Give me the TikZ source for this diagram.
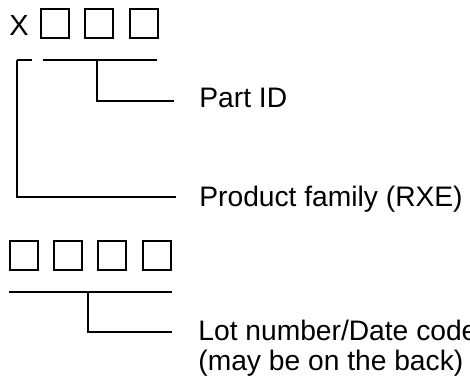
\documentclass[tikz,border=0pt]{standalone}
\usepackage{fontspec}
\setmainfont{Liberation Sans}
\usetikzlibrary{positioning}

\tikzset{
  cell/.style={draw, line width=1pt, minimum width=14pt, minimum height=14.5pt, inner sep=0pt},
  lbl/.style={font=\fontsize{14.1}{16}\selectfont, inner sep=0pt, anchor=base west},
  lead/.style={line width=0.8pt}
}

\begin{document}
\begin{tikzpicture}[x=0.5pt,y=-0.5pt]
\useasboundingbox (0,0) rectangle (470,380);

% Top code
\node[font=\fontsize{14.5}{16}\selectfont, inner sep=0pt] (xmark) at (19,26) {X};
\foreach \i/\x in {1/55,2/99,3/143.5}
  \node[cell] (t\i) at (\x,23) {};

\draw[lead] (17,60) coordinate (famtop) -- (32,60);
\draw[lead] (43,60) -- (157,60);
\coordinate (pidtop) at (97,60);

% Labels
\node[lbl] (partid) at (199,107) {Part ID};
\node[lbl] (family) at (199,206) {Product family (RXE)};
\coordinate (pidend) at (174,101);
\coordinate (famend) at (176,197);

\draw[lead] (pidtop) |- (pidend);
\draw[lead] (famtop) |- (famend);

% Bottom code
\foreach \i in {1,...,4}
  \node[cell] (b\i) at ({24+44.2*(\i-1)},255) {};

\draw[lead] (9,292) -- (172,292);
\coordinate (lottop) at (88,292);
\coordinate (lotend) at (172,332);

\node[lbl] (lotnum) at (198,340) {Lot number/Date code};
\node[lbl] (lotback) at ([yshift=-15pt]lotnum.base west) {(may be on the back)};

\draw[lead] (lottop) |- (lotend);
\end{tikzpicture}
\end{document}
